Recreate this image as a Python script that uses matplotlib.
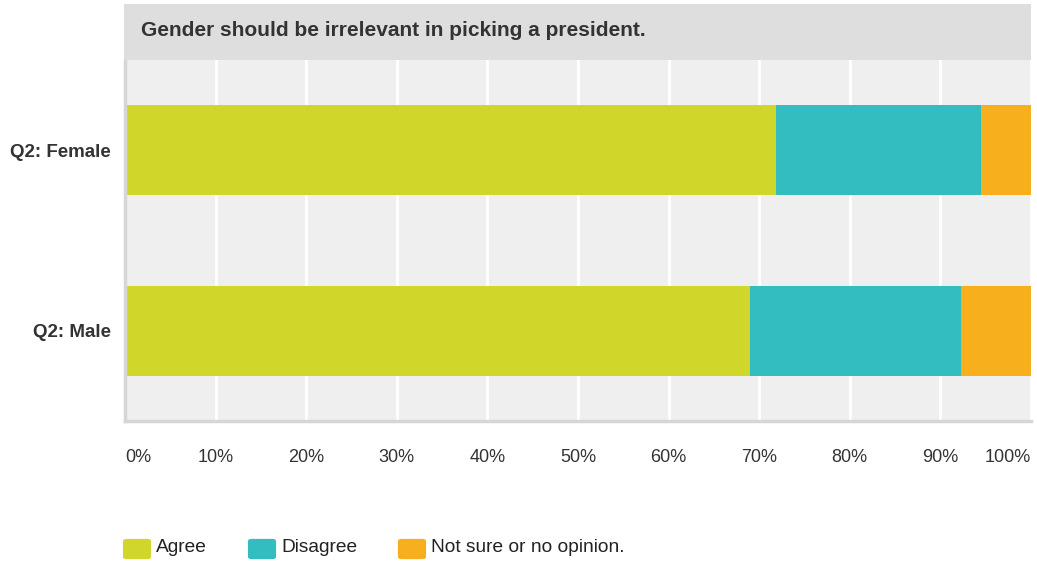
import matplotlib
matplotlib.use("Agg")
import matplotlib.pyplot as plt
from matplotlib.patches import Rectangle, FancyBboxPatch
import numpy as np

plt.rcParams["font.family"] = ["Liberation Sans", "DejaVu Sans"]

title = "Gender should be irrelevant in picking a president."
groups = ["Q2: Female", "Q2: Male"]
series = ["Agree", "Disagree", "Not sure or no opinion."]
colors = ["#D0D62A", "#34BDC0", "#F7AF1E"]
values = np.array([
    [71.9, 22.6, 5.5],   # Female
    [69.0, 23.3, 7.7],   # Male
])
ticks = np.arange(0, 101, 10)

W, H = 1037, 562
fig = plt.figure(figsize=(W / 100, H / 100), dpi=100)


def fx(px):
    return px / W


def fy(py):
    return 1 - py / H


# plot area: x 125..1031, y 60..421 in pixels
ax = fig.add_axes([fx(125), fy(421), fx(1031) - fx(125), fy(60) - fy(421)])
ax.set_facecolor("#EFEFEF")
ax.set_xlim(0, 100)
ax.set_ylim(1.5, -0.5)

left = np.zeros(len(groups))
for k, name in enumerate(series):
    ax.barh(np.arange(len(groups)), values[:, k], left=left, height=0.5,
            color=colors[k], label=name, zorder=3)
    left += values[:, k]

ax.set_xticks(ticks)
ax.set_xticklabels([f"{t}%" for t in ticks], fontsize=13, color="#333333")
labels = ax.get_xticklabels()
labels[0].set_ha("left")
labels[-1].set_ha("right")
ax.grid(axis="x", color="white", linewidth=2, zorder=1)
ax.set_yticks(np.arange(len(groups)))
ax.set_yticklabels(groups, fontsize=13.5, fontweight="bold", color="#333333")
ax.tick_params(axis="both", length=0)
ax.tick_params(axis="x", pad=20)
ax.tick_params(axis="y", pad=10)
for s in ["top", "right"]:
    ax.spines[s].set_visible(False)
for s in ["left", "bottom"]:
    ax.spines[s].set_color("#D6D6D6")
    ax.spines[s].set_linewidth(2.5)
    ax.spines[s].set_zorder(4)

# header band
fig.patches.append(Rectangle((fx(124), fy(60)), fx(1031) - fx(124), fy(4) - fy(60),
                             transform=fig.transFigure, facecolor="#DEDEDE",
                             edgecolor="none", zorder=0))
fig.text(fx(141), fy(31), title, fontsize=15, fontweight="bold",
         color="#333333", va="center", ha="left")

# legend
leg_x = [123, 248, 398]
for k, name in enumerate(series):
    fig.patches.append(FancyBboxPatch((fx(leg_x[k] + 2), fy(558)),
                                      fx(24), fy(540) - fy(558),
                                      boxstyle="round,pad=0.002,rounding_size=0.004",
                                      transform=fig.transFigure,
                                      facecolor=colors[k], edgecolor="none"))
    fig.text(fx(leg_x[k] + 33), fy(547), name, fontsize=13.8, color="#222222",
             va="center", ha="left")

fig.savefig("out.png", dpi=100, facecolor="white")
